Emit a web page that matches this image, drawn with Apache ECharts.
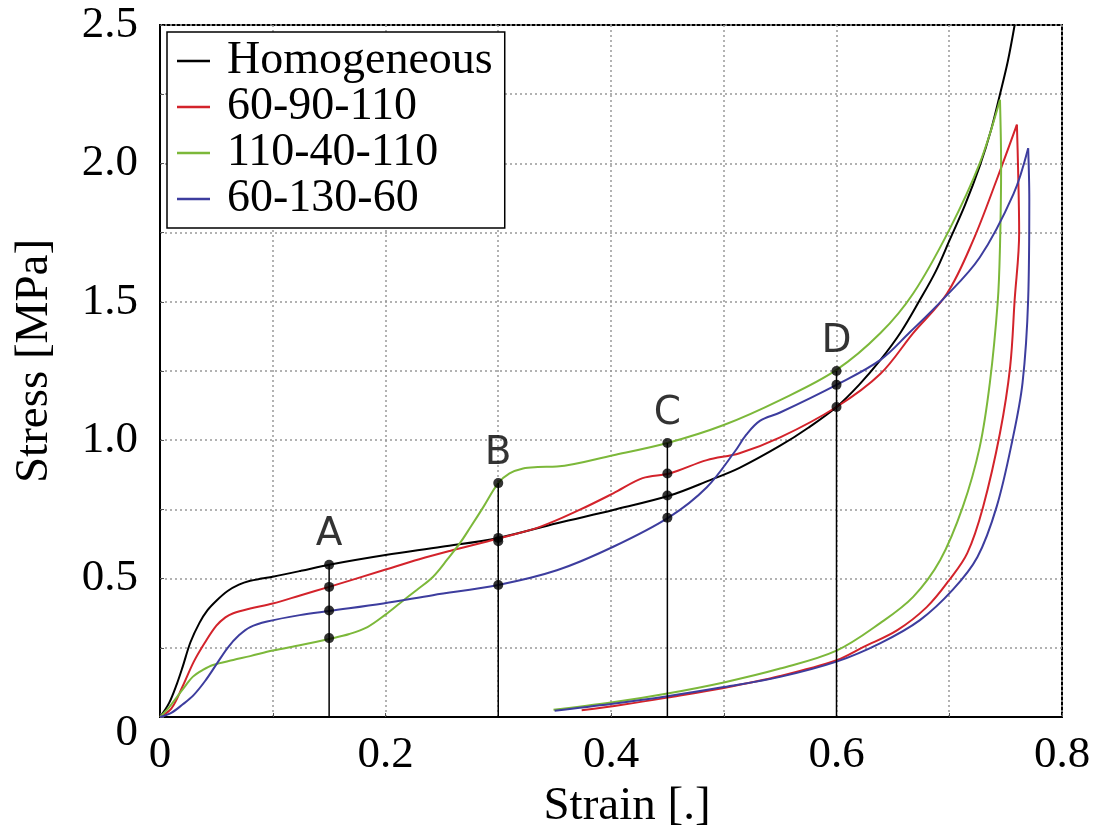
<!DOCTYPE html>
<html>
<head>
<meta charset="utf-8">
<script src="https://cdn.jsdelivr.net/npm/echarts@6/dist/echarts.min.js"></script>
<style>html,body{margin:0;padding:0;background:#fff}#c{width:1097px;height:838px}</style>
</head>
<body>
<div id="c"></div>
<script>
// ---- data ----
const seriesNames = ['Homogeneous', '60-90-110', '110-40-110', '60-130-60'];
const homogeneous = [[0,0],[0.008,0.05],[0.015,0.12],[0.02,0.18],[0.027,0.27],[0.035,0.34],[0.042,0.385],[0.05,0.42],[0.06,0.455],[0.07,0.478],[0.08,0.492],[0.09,0.5],[0.1,0.507],[0.125,0.528],[0.15,0.55],[0.2,0.585],[0.25,0.615],[0.3,0.647],[0.352,0.70],[0.402,0.748],[0.452,0.80],[0.488,0.856],[0.514,0.90],[0.55,0.98],[0.575,1.045],[0.6,1.12],[0.62,1.20],[0.639,1.29],[0.657,1.39],[0.674,1.507],[0.688,1.61],[0.70,1.72],[0.714,1.85],[0.727,1.99],[0.737,2.12],[0.745,2.25],[0.752,2.37],[0.758,2.5]];
const red_load = [[0,0],[0.01,0.03],[0.02,0.11],[0.03,0.2],[0.04,0.27],[0.05,0.33],[0.058,0.36],[0.065,0.375],[0.08,0.392],[0.1,0.41],[0.125,0.44],[0.15,0.47],[0.198,0.53],[0.23,0.57],[0.257,0.60],[0.3,0.645],[0.337,0.687],[0.372,0.748],[0.402,0.808],[0.428,0.863],[0.452,0.88],[0.485,0.928],[0.514,0.953],[0.55,1.01],[0.6,1.12],[0.639,1.24],[0.668,1.387],[0.698,1.53],[0.721,1.72],[0.742,1.94],[0.76,2.14]];
const red_unload = [[0.76,2.14],[0.761,1.99],[0.762,1.75],[0.758,1.506],[0.754,1.265],[0.745,1.026],[0.73,0.759],[0.716,0.592],[0.70,0.495],[0.68,0.397],[0.654,0.314],[0.624,0.253],[0.6,0.205],[0.55,0.148],[0.5,0.105],[0.45,0.07],[0.41,0.044],[0.374,0.024]];
const green_load = [[0,0],[0.008,0.035],[0.015,0.072],[0.022,0.11],[0.029,0.145],[0.038,0.17],[0.047,0.188],[0.065,0.206],[0.08,0.22],[0.1,0.24],[0.125,0.26],[0.15,0.282],[0.168,0.30],[0.184,0.325],[0.2,0.37],[0.213,0.412],[0.228,0.46],[0.242,0.506],[0.255,0.57],[0.266,0.628],[0.276,0.69],[0.287,0.76],[0.3,0.845],[0.31,0.88],[0.322,0.898],[0.335,0.903],[0.352,0.905],[0.402,0.946],[0.45,0.99],[0.5,1.055],[0.55,1.145],[0.6,1.254],[0.639,1.387],[0.668,1.53],[0.70,1.76],[0.727,2.0],[0.745,2.23]];
const green_unload = [[0.745,2.23],[0.746,1.99],[0.745,1.70],[0.743,1.50],[0.736,1.207],[0.727,0.975],[0.712,0.759],[0.692,0.567],[0.668,0.434],[0.639,0.34],[0.6,0.24],[0.55,0.175],[0.5,0.125],[0.45,0.085],[0.4,0.052],[0.349,0.026]];
const blue_load = [[0,0],[0.01,0.015],[0.02,0.045],[0.03,0.08],[0.04,0.13],[0.05,0.19],[0.06,0.25],[0.07,0.295],[0.08,0.325],[0.095,0.345],[0.124,0.368],[0.15,0.383],[0.198,0.41],[0.242,0.44],[0.3,0.477],[0.352,0.53],[0.402,0.615],[0.452,0.723],[0.485,0.83],[0.51,0.96],[0.52,1.02],[0.532,1.07],[0.55,1.10],[0.6,1.2],[0.639,1.29],[0.665,1.39],[0.694,1.507],[0.727,1.66],[0.757,1.89],[0.77,2.055]];
const blue_unload = [[0.77,2.055],[0.771,1.87],[0.77,1.51],[0.765,1.207],[0.756,1.0],[0.742,0.759],[0.725,0.578],[0.703,0.459],[0.674,0.35],[0.639,0.267],[0.6,0.2],[0.55,0.145],[0.5,0.108],[0.45,0.075],[0.4,0.047],[0.35,0.023]];
const seriesColors = ['#000000', '#d3232b', '#7cb83a', '#3d3d9e'];
// section points A-D
const sectionLabels = ['A', 'B', 'C', 'D'];
const sectionX = [0.15, 0.30, 0.45, 0.60];
const sectionTop = [0.55, 0.845, 0.99, 1.25];
const markerPoints = [[0.15,0.55],[0.15,0.47],[0.15,0.385],[0.15,0.285],[0.3,0.845],[0.3,0.647],[0.3,0.635],[0.3,0.477],[0.45,0.99],[0.45,0.88],[0.45,0.80],[0.45,0.72],[0.6,1.25],[0.6,1.2],[0.6,1.12]];
const xTickLabels = ['0', '0.2', '0.4', '0.6', '0.8'];
const yTickLabels = ['0', '0.5', '1.0', '1.5', '2.0', '2.5'];

// ---- chart ----
const serif = 'Liberation Serif';
const chart = echarts.init(document.getElementById('c'), null, {renderer: 'canvas'});
const curveParts = [[homogeneous], [red_load, red_unload], [green_load, green_unload], [blue_load, blue_unload]];
const series = [];
curveParts.forEach((parts, i) => {
  parts.forEach(d => {
    series.push({
      name: seriesNames[i], type: 'line', data: d, symbol: 'none', smooth: 0.35,
      lineStyle: {color: seriesColors[i], width: 2}, itemStyle: {color: seriesColors[i]},
      z: 3, animation: false, clip: true
    });
  });
});
sectionX.forEach((x, i) => {
  series.push({
    type: 'line', data: [[x, 0], [x, sectionTop[i]]], symbol: 'none',
    lineStyle: {color: '#000', width: 1.5}, z: 4, animation: false, silent: true
  });
});
series.push({
  type: 'scatter', data: markerPoints, symbol: 'circle', symbolSize: 10,
  itemStyle: {color: '#000'}, z: 5, animation: false, silent: true
});
series.push({
  type: 'scatter', data: sectionX.map((x, i) => [x, sectionTop[i], sectionLabels[i]]),
  symbolSize: 0, z: 6, animation: false, silent: true,
  label: {show: true, position: 'top', distance: 10, formatter: p => p.value[2],
          fontFamily: 'DejaVu Sans', fontSize: 39, color: '#000'}
});

const option = {
  backgroundColor: '#fff',
  animation: false,
  grid: {left: 160, right: 35, top: 25, bottom: 121, show: true, borderColor: '#000', borderWidth: 2, backgroundColor: 'transparent'},
  legend: {
    data: seriesNames, orient: 'vertical', left: 167, top: 32,
    backgroundColor: '#fff', borderColor: '#000', borderWidth: 1.5, borderRadius: 0,
    padding: [6, 12, 6, 10], itemGap: 0, icon: 'rect', itemWidth: 33, itemHeight: 2.5,
    textStyle: {fontFamily: serif, fontSize: 46, color: '#000', lineHeight: 42, padding: [0, 0, 0, 12]}
  },
  xAxis: {
    type: 'value', min: 0, max: 0.8, interval: 0.1,
    name: 'Strain [.]', nameLocation: 'middle', nameGap: 64,
    nameTextStyle: {fontFamily: serif, fontSize: 47, color: '#000', padding: [0, 0, 0, 32]},
    axisLine: {show: true, lineStyle: {color: '#000', width: 2}},
    axisTick: {show: true, inside: true, length: 4, lineStyle: {color: '#555'}},
    axisLabel: {fontFamily: serif, fontSize: 45, color: '#000', margin: 16,
      formatter: v => { const k = Math.round(v * 10); return k % 2 === 0 ? xTickLabels[k / 2] : ''; }},
    splitLine: {show: true, lineStyle: {color: '#999', type: [2, 3], width: 1.5}}
  },
  yAxis: {
    type: 'value', min: 0, max: 2.5, interval: 0.25,
    name: 'Stress [MPa]', nameLocation: 'middle', nameGap: 102, nameRotate: 90,
    nameTextStyle: {fontFamily: serif, fontSize: 47, color: '#000', padding: [0, 0, 0, 20]},
    axisLine: {show: true, lineStyle: {color: '#000', width: 2}},
    axisTick: {show: true, inside: true, length: 4, lineStyle: {color: '#555'}},
    axisLabel: {fontFamily: serif, fontSize: 45, color: '#000', margin: 22,
      formatter: v => { const k = Math.round(v * 4); if (k % 2 !== 0) return ''; return k === 0 ? '{z|' + yTickLabels[0] + '}' : yTickLabels[k / 2]; },
      rich: {z: {fontFamily: serif, fontSize: 45, color: '#000', padding: [32, 0, 0, 0]}}},
    splitLine: {show: true, lineStyle: {color: '#999', type: [2, 3], width: 1.5}}
  },
  series: series
};
chart.setOption(option);
</script>
</body>
</html>
